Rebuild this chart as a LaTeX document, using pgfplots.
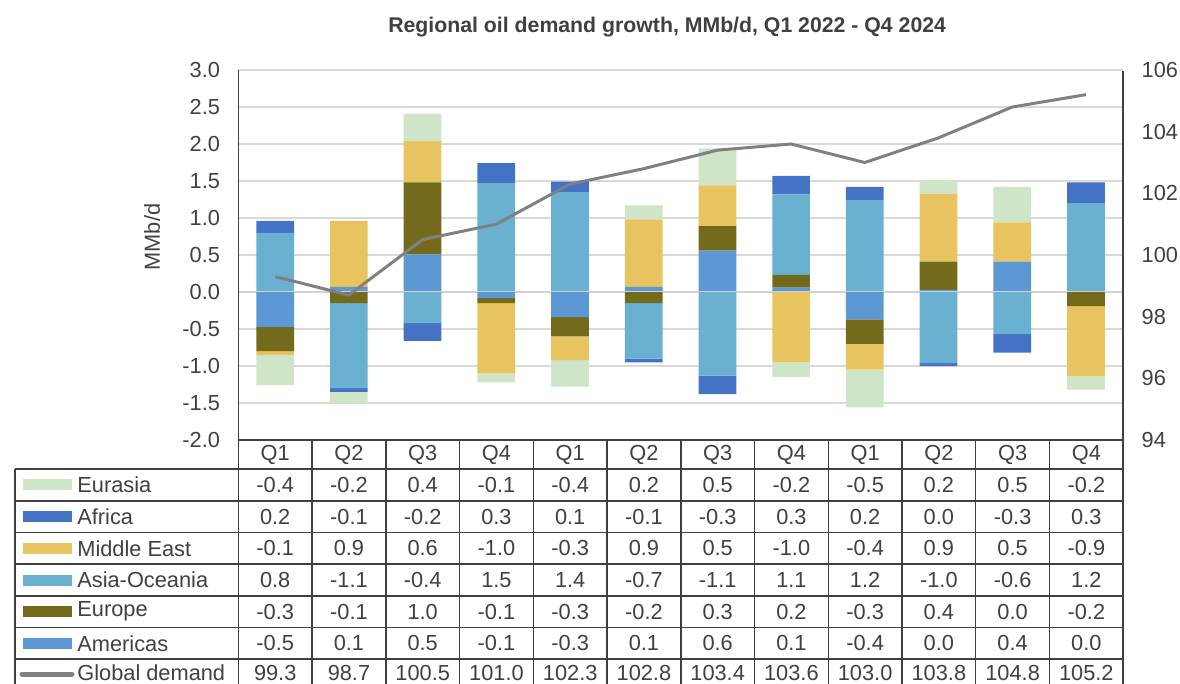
\documentclass[border=0pt]{standalone}
\usepackage{fontspec}
\setmainfont{Liberation Sans}
\usepackage{pgfplots}
\usepackage{pgfplotstable}
\pgfplotsset{compat=1.18}

\definecolor{cEa}{RGB}{206,229,199}
\definecolor{cAf}{RGB}{68,114,196}
\definecolor{cME}{RGB}{231,196,95}
\definecolor{cAs}{RGB}{106,176,208}
\definecolor{cEu}{RGB}{115,106,27}
\definecolor{cAm}{RGB}{91,152,212}
\definecolor{cLine}{RGB}{128,128,128}
\definecolor{cGrid}{RGB}{217,217,217}
\definecolor{cZero}{RGB}{210,210,210}
\definecolor{cBorder}{RGB}{64,64,64}
\definecolor{cText}{RGB}{64,64,64}

\newcommand\cf{\fontsize{12.4}{14}\selectfont}

% regional growth by quarter (0 = Q1 2022 ... 11 = Q4 2024), MMb/d
\pgfplotstableread{
q   Am     Eu     As     ME     Af     Ea
0  -0.47  -0.33   0.80  -0.05   0.16  -0.41
1   0.07  -0.15  -1.15   0.89  -0.05  -0.15
2   0.51   0.97  -0.42   0.56  -0.24   0.37
3  -0.08  -0.07   1.47  -0.95   0.27  -0.12
4  -0.34  -0.26   1.35  -0.32   0.14  -0.36
5   0.07  -0.15  -0.75   0.91  -0.05   0.19
6   0.56   0.33  -1.13   0.55  -0.25   0.50
7   0.06   0.17   1.09  -0.95   0.25  -0.20
8  -0.37  -0.33   1.24  -0.35   0.18  -0.51
9   0.03   0.38  -0.96   0.92  -0.04   0.18
10  0.41   0.00  -0.57   0.53  -0.25   0.48
11  0.00  -0.19   1.20  -0.95   0.28  -0.18
}\regions

\pgfplotstableread{
q  gd
0  99.3
1  98.7
2  100.5
3  101.0
4  102.3
5  102.8
6  103.4
7  103.6
8  103.0
9  103.8
10 104.8
11 105.2
}\demand

\pgfplotsset{
  frame/.style={
    at={(4.766cm,-8.8cm)}, anchor=south west,
    scale only axis, width=17.69cm, height=7.4cm,
    xmin=-0.5, xmax=11.5, xtick=\empty,
    axis line style={draw=none}, major tick length=0,
  },
  bars/.style={ybar stacked, bar width=0.754cm, ymin=-2, ymax=3},
}

\begin{document}
\begin{tikzpicture}
\path[use as bounding box] (0,0) rectangle (23.6cm,-13.68cm);

% positive parts, grid and left scale
\begin{axis}[frame, bars,
  ytick={-2,-1.5,-1,-0.5,0,0.5,1,1.5,2,2.5,3},
  ymajorgrids, grid style={cGrid, line width=0.7pt},
  yticklabel style={font=\cf, text=cText, inner sep=0pt, xshift=-0.36cm,
    /pgf/number format/.cd, fixed, fixed zerofill, precision=1, assume math mode=true},
]
\addplot[fill=cAm, draw=none] table[x=q, y expr={max(\thisrow{Am},0)}] {\regions};
\addplot[fill=cEu, draw=none] table[x=q, y expr={max(\thisrow{Eu},0)}] {\regions};
\addplot[fill=cAs, draw=none] table[x=q, y expr={max(\thisrow{As},0)}] {\regions};
\addplot[fill=cME, draw=none] table[x=q, y expr={max(\thisrow{ME},0)}] {\regions};
\addplot[fill=cAf, draw=none] table[x=q, y expr={max(\thisrow{Af},0)}] {\regions};
\addplot[fill=cEa, draw=none] table[x=q, y expr={max(\thisrow{Ea},0)}] {\regions};
\end{axis}

% negative parts
\begin{axis}[frame, bars, ytick=\empty]
\addplot[fill=cAm, draw=none] table[x=q, y expr={min(\thisrow{Am},0)}] {\regions};
\addplot[fill=cEu, draw=none] table[x=q, y expr={min(\thisrow{Eu},0)}] {\regions};
\addplot[fill=cAs, draw=none] table[x=q, y expr={min(\thisrow{As},0)}] {\regions};
\addplot[fill=cME, draw=none] table[x=q, y expr={min(\thisrow{ME},0)}] {\regions};
\addplot[fill=cAf, draw=none] table[x=q, y expr={min(\thisrow{Af},0)}] {\regions};
\addplot[fill=cEa, draw=none] table[x=q, y expr={min(\thisrow{Ea},0)}] {\regions};
\draw[cZero, line width=1.3pt] (axis cs:-0.5,0) -- (axis cs:11.5,0);
\end{axis}

% global demand, right scale
\begin{axis}[frame, ymin=94, ymax=106, ytick={94,96,...,106},
  ytick pos=right, yticklabel pos=right,
  yticklabel style={font=\cf, text=cText, inner sep=0pt, anchor=west, xshift=0.37cm,
    /pgf/number format/assume math mode=true},
]
\addplot[cLine, line width=1.7pt, mark=none] table[x=q, y=gd] {\demand};
\end{axis}

\begin{scope}[x=0.02cm,y=-0.02cm, font=\cf]
  \node[font=\fontsize{12.1}{14}\selectfont\bfseries, text=cText] at (667,27) {Regional oil demand growth, MMb/d, Q1 2022 - Q4 2024};
  \node[rotate=90, text=cText] at (152,237) {MMb/d};

  % table grid
  \begin{scope}[cBorder, line width=0.85pt]
    \draw (238.3,70) -- (238.3,700);
    \draw (1123,71) -- (1123,700);
    \foreach \k in {1,...,11} \draw ({238.3+\k*73.725},440) -- ({238.3+\k*73.725},700);
    \draw (15,469) -- (15,700);
    \draw (238.3,440) -- (1123,440);
    \foreach \yy in {469,500.7,532.3,564,595.7,627.3,659} \draw (15,\yy) -- (1123,\yy);
  \end{scope}

  \foreach [count=\i from 0] \v in {Q1,Q2,Q3,Q4,Q1,Q2,Q3,Q4,Q1,Q2,Q3,Q4}
    \node[text=cText] at ({275.16+\i*73.725},455) {\v};

  % legend column
  \foreach \c/\t/\yy in {cEa/Eurasia/484.8, cAf/Africa/516.5, cME/Middle East/548.2,
      cAs/Asia-Oceania/579.9, cEu/Europe/611.5, cAm/Americas/643.2} {
    \fill[\c] (23,\yy-5.5) rectangle (72,\yy+5.5);
    \node[anchor=west, inner sep=0pt, text=cText] at (77,\yy) {\t};
  }
  \draw[cLine, line width=2.8pt, line cap=round] (22,674) -- (72,674);
  \node[anchor=west, inner sep=0pt, text=cText] at (77,673) {Global demand};

  % values
  \foreach \yy/\row in {
      484.8/{-0.4,-0.2,0.4,-0.1,-0.4,0.2,0.5,-0.2,-0.5,0.2,0.5,-0.2},
      516.5/{0.2,-0.1,-0.2,0.3,0.1,-0.1,-0.3,0.3,0.2,0.0,-0.3,0.3},
      548.2/{-0.1,0.9,0.6,-1.0,-0.3,0.9,0.5,-1.0,-0.4,0.9,0.5,-0.9},
      579.9/{0.8,-1.1,-0.4,1.5,1.4,-0.7,-1.1,1.1,1.2,-1.0,-0.6,1.2},
      611.5/{-0.3,-0.1,1.0,-0.1,-0.3,-0.2,0.3,0.2,-0.3,0.4,0.0,-0.2},
      643.2/{-0.5,0.1,0.5,-0.1,-0.3,0.1,0.6,0.1,-0.4,0.0,0.4,0.0},
      673/{99.3,98.7,100.5,101.0,102.3,102.8,103.4,103.6,103.0,103.8,104.8,105.2}} {
    \foreach [count=\i from 0] \v in \row
      \node[text=cText] at ({275.16+\i*73.725},\yy) {\v};
  }
\end{scope}
\end{tikzpicture}
\end{document}
